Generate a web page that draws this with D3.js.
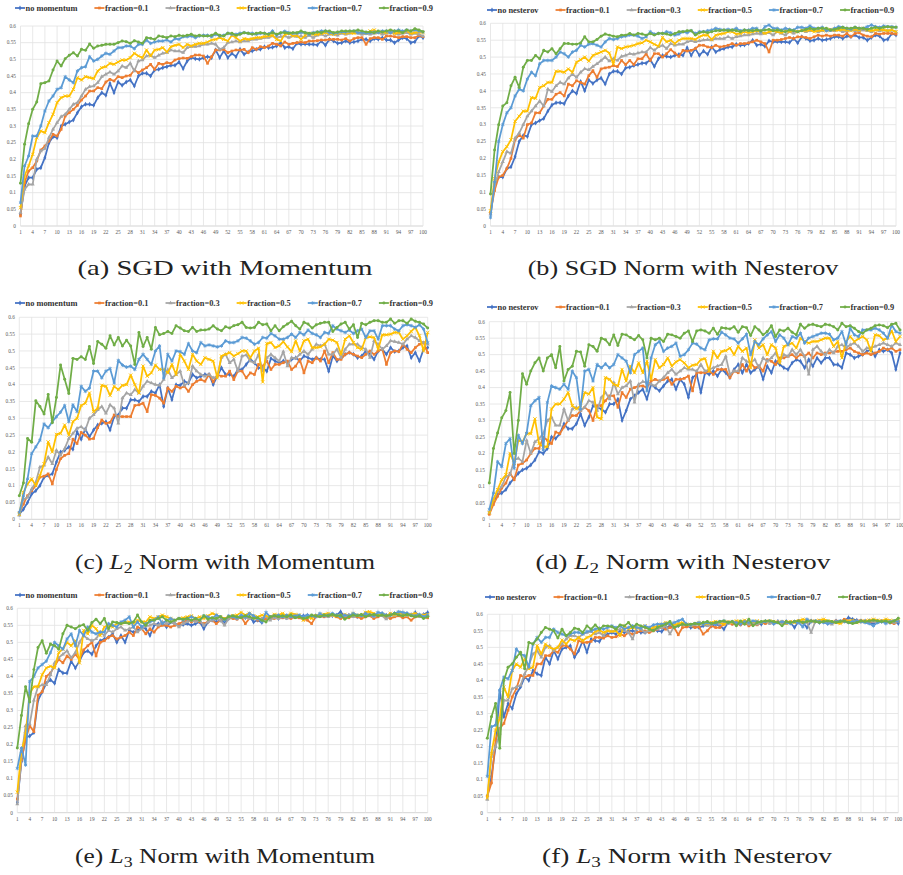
<html>
<head>
<script src="https://d3js.org/d3.v7.min.js"></script>
<style>
body { margin: 0; background: #fff; }
svg { display: block; }
</style>
</head>
<body>
<script>
// ---- data (accuracy per epoch) ----
const epochs = d3.range(1, 101);
const yTicks = [0, 0.05, 0.1, 0.15, 0.2, 0.25, 0.3, 0.35, 0.4, 0.45, 0.5, 0.55, 0.6];
const yTickLabels = ["0", "0.05", "0.1", "0.15", "0.2", "0.25", "0.3", "0.35", "0.4", "0.45", "0.5", "0.55", "0.6"];
const xTickLabels = d3.range(1, 101, 3);
const momentumNames = ["no momentum", "fraction=0.1", "fraction=0.3", "fraction=0.5", "fraction=0.7", "fraction=0.9"];
const nesterovNames = ["no nesterov", "fraction=0.1", "fraction=0.3", "fraction=0.5", "fraction=0.7", "fraction=0.9"];

// (a) SGD with Momentum
const sgdMomNone = [.035,.12,.145,.145,.17,.175,.205,.25,.268,.265, .30,.305,.312,.318,.34,.358,.365,.365,.362,.385,
  .40,.392,.428,.40,.432,.422,.432,.438,.42,.45, .458,.458,.45,.468,.47,.475,.478,.482,.482,.492,
  .472,.495,.505,.502,.50,.505,.508,.505,.528,.505, .525,.505,.518,.508,.53,.515,.522,.525,.53,.53,
  .538,.535,.536,.54,.55,.535,.538,.532,.548,.545, .546,.545,.545,.543,.555,.542,.56,.555,.548,.55,
  .555,.55,.552,.555,.56,.56,.555,.562,.56,.565, .558,.558,.55,.558,.565,.562,.55,.553,.57,.565];
const sgdMom01 = [.03,.13,.165,.175,.195,.228,.24,.255,.275,.27, .29,.33,.34,.35,.362,.378,.39,.405,.405,.415,
  .412,.432,.44,.435,.448,.445,.45,.452,.468,.46, .468,.475,.485,.47,.488,.485,.49,.488,.498,.502,
  .504,.503,.508,.513,.513,.51,.488,.508,.528,.528, .53,.52,.525,.528,.528,.53,.52,.535,.53,.538,
  .535,.54,.548,.545,.54,.552,.545,.548,.55,.552, .55,.555,.555,.556,.558,.558,.56,.56,.56,.558,
  .562,.555,.562,.565,.565,.545,.562,.565,.565,.56, .57,.57,.568,.565,.568,.568,.565,.565,.572,.568];
const sgdMom03 = [.04,.11,.125,.125,.2,.225,.232,.265,.29,.31, .328,.335,.35,.365,.37,.39,.41,.418,.42,.43,
  .448,.455,.462,.455,.465,.48,.475,.488,.465,.495, .498,.51,.512,.505,.512,.518,.52,.528,.525,.525,
  .52,.535,.538,.538,.54,.545,.545,.548,.545,.53, .535,.55,.552,.555,.552,.555,.555,.56,.56,.562,
  .565,.565,.57,.565,.568,.57,.565,.57,.568,.57, .565,.572,.565,.572,.575,.57,.575,.575,.572,.578,
  .575,.578,.58,.578,.575,.578,.575,.578,.58,.575, .578,.58,.578,.575,.578,.58,.575,.578,.575,.57];
const sgdMom05 = [.055,.15,.18,.215,.265,.285,.28,.31,.335,.37, .385,.39,.39,.41,.445,.438,.448,.445,.442,.465,
  .475,.478,.488,.485,.492,.498,.498,.505,.518,.51, .505,.528,.51,.528,.53,.535,.522,.538,.542,.545,
  .535,.545,.54,.545,.548,.548,.552,.558,.56,.565, .56,.555,.572,.565,.555,.562,.56,.562,.565,.565,
  .568,.57,.572,.56,.555,.575,.578,.57,.572,.56, .572,.578,.575,.575,.578,.58,.578,.575,.578,.58,
  .578,.58,.578,.582,.58,.578,.585,.588,.58,.582, .58,.585,.578,.58,.582,.585,.578,.58,.582,.58];
const sgdMom07 = [.07,.18,.21,.27,.27,.30,.345,.375,.39,.41, .415,.448,.438,.43,.465,.475,.478,.508,.495,.50,
  .51,.518,.515,.525,.535,.535,.54,.54,.532,.545, .545,.558,.548,.552,.555,.555,.558,.552,.562,.56,
  .568,.568,.57,.565,.57,.572,.572,.568,.575,.57, .572,.578,.575,.575,.578,.58,.578,.578,.575,.578,
  .578,.576,.585,.572,.578,.584,.58,.578,.578,.58, .58,.575,.58,.582,.585,.585,.58,.578,.58,.582,
  .582,.584,.585,.58,.58,.578,.58,.582,.58,.585, .585,.58,.585,.588,.585,.588,.585,.588,.585,.582];
const sgdMom09 = [.128,.245,.307,.35,.372,.427,.43,.435,.468,.495, .48,.502,.512,.52,.51,.53,.527,.546,.533,.54,
  .542,.545,.545,.545,.55,.555,.553,.548,.556,.552, .548,.565,.563,.56,.57,.568,.565,.57,.568,.572,
  .57,.572,.575,.57,.572,.57,.57,.572,.578,.572, .57,.578,.578,.572,.575,.58,.578,.575,.578,.58,
  .578,.575,.58,.575,.58,.58,.578,.58,.58,.585, .58,.578,.578,.582,.58,.585,.585,.58,.582,.585,
  .585,.585,.585,.588,.585,.582,.582,.58,.585,.582, .585,.588,.585,.585,.58,.588,.585,.592,.588,.583];

// (b) SGD Norm with Nesterov (baseline run is the same curve as in (a))
const sgdNesNone = sgdMomNone;
const sgdNes01 = [.04,.105,.145,.15,.17,.20,.255,.27,.26,.30, .305,.335,.335,.355,.375,.375,.39,.395,.385,.42,
  .415,.43,.425,.42,.445,.46,.44,.465,.468,.47, .475,.472,.49,.478,.49,.478,.495,.495,.51,.49,
  .51,.51,.50,.51,.522,.512,.502,.52,.518,.52, .525,.535,.535,.53,.528,.535,.53,.532,.535,.54,
  .535,.54,.54,.542,.545,.55,.545,.54,.515,.55, .55,.552,.555,.558,.555,.56,.56,.558,.555,.56,
  .565,.562,.565,.562,.565,.565,.562,.57,.56,.57, .572,.565,.562,.56,.57,.568,.57,.57,.57,.568];
const sgdNes03 = [.035,.12,.16,.19,.22,.215,.26,.275,.30,.325, .34,.355,.37,.355,.405,.398,.415,.425,.42,.438,
  .45,.44,.455,.465,.462,.472,.48,.49,.50,.488, .495,.49,.502,.505,.51,.508,.512,.515,.515,.528,
  .52,.53,.535,.525,.54,.535,.538,.538,.545,.548, .545,.548,.55,.552,.55,.555,.555,.555,.56,.555,
  .56,.562,.565,.565,.568,.57,.568,.57,.572,.565, .575,.57,.565,.575,.57,.575,.578,.575,.578,.58,
  .575,.578,.58,.578,.578,.58,.575,.578,.58,.578, .578,.58,.578,.575,.58,.578,.58,.578,.58,.575];
const sgdNes05 = [.045,.14,.19,.22,.235,.255,.31,.325,.34,.34, .38,.378,.41,.415,.425,.425,.458,.458,.455,.465,
  .455,.485,.492,.50,.488,.505,.51,.515,.52,.512, .48,.53,.525,.53,.532,.535,.54,.542,.55,.545,
  .538,.532,.558,.545,.55,.54,.55,.555,.555,.555, .552,.56,.565,.565,.552,.565,.568,.57,.575,.575,
  .568,.57,.575,.572,.575,.578,.575,.57,.575,.578, .575,.572,.578,.575,.578,.575,.58,.578,.58,.575,
  .578,.58,.578,.582,.58,.58,.582,.58,.578,.582, .58,.585,.58,.578,.58,.582,.58,.578,.58,.575];
const sgdNes07 = [.025,.13,.25,.30,.335,.35,.385,.405,.40,.435, .455,.445,.48,.49,.49,.49,.50,.515,.51,.50,
  .515,.52,.535,.53,.538,.54,.535,.53,.545,.555, .552,.555,.56,.562,.565,.565,.562,.555,.56,.575,
  .568,.57,.57,.575,.572,.565,.568,.575,.572,.578, .57,.575,.575,.578,.58,.585,.582,.58,.582,.58,
  .585,.578,.58,.58,.585,.585,.575,.59,.595,.585, .585,.58,.585,.582,.58,.588,.588,.585,.592,.585,
  .585,.588,.578,.58,.585,.59,.588,.585,.582,.588, .585,.585,.59,.595,.59,.588,.592,.59,.59,.588];
const sgdNes09 = [.095,.225,.30,.355,.365,.415,.44,.41,.47,.49, .49,.505,.495,.52,.515,.525,.51,.525,.54,.54,
  .538,.538,.542,.56,.545,.545,.552,.562,.568,.565, .562,.56,.565,.565,.57,.565,.57,.568,.565,.57,
  .565,.57,.57,.568,.565,.57,.575,.575,.578,.578, .565,.572,.575,.572,.575,.578,.578,.58,.578,.58,
  .578,.575,.58,.578,.578,.58,.578,.58,.582,.578, .58,.578,.575,.58,.578,.575,.578,.582,.585,.582,
  .585,.585,.585,.58,.582,.585,.588,.585,.585,.588, .585,.585,.582,.585,.588,.585,.588,.59,.588,.588];

// (c) L2 Norm with Momentum
const l2MomNone = [.015,.03,.05,.075,.085,.10,.125,.13,.135,.17, .20,.205,.215,.208,.26,.238,.268,.245,.265,.28,
  .285,.29,.265,.305,.31,.33,.33,.355,.355,.35, .365,.365,.38,.375,.40,.335,.39,.355,.40,.398,
  .41,.405,.43,.42,.425,.43,.43,.40,.425,.45, .43,.43,.425,.445,.445,.46,.475,.465,.45,.45,
  .44,.478,.47,.465,.47,.465,.475,.48,.47,.485, .48,.475,.48,.475,.475,.44,.485,.47,.48,.49,
  .495,.49,.48,.485,.50,.49,.475,.50,.505,.49, .51,.498,.50,.51,.515,.48,.495,.47,.505,.51];
const l2Mom01 = [.02,.045,.07,.085,.10,.125,.128,.135,.105,.148, .18,.19,.195,.238,.225,.258,.25,.238,.24,.272,
  .295,.285,.288,.31,.305,.305,.305,.305,.338,.34, .345,.32,.37,.368,.36,.345,.39,.38,.395,.39,
  .395,.38,.40,.41,.415,.41,.43,.408,.43,.425, .425,.44,.415,.44,.44,.42,.435,.43,.46,.455,
  .47,.445,.46,.46,.465,.47,.445,.455,.475,.435, .47,.465,.48,.47,.50,.465,.495,.475,.475,.49,
  .495,.49,.485,.48,.49,.50,.49,.50,.505,.46, .495,.50,.498,.52,.505,.495,.51,.52,.525,.495];
const l2Mom03 = [.012,.06,.065,.09,.11,.155,.16,.185,.165,.205, .19,.21,.24,.255,.27,.275,.265,.30,.31,.325,
  .335,.315,.34,.33,.285,.36,.375,.37,.385,.375, .395,.41,.405,.40,.398,.415,.445,.42,.43,.44,
  .398,.405,.455,.44,.43,.425,.43,.42,.425,.48, .49,.465,.475,.44,.485,.488,.47,.465,.49,.44,
  .48,.49,.48,.47,.498,.455,.48,.478,.49,.50, .49,.505,.52,.515,.52,.49,.49,.505,.48,.505,
  .52,.52,.52,.51,.505,.48,.53,.52,.505,.515, .53,.528,.525,.52,.535,.545,.54,.53,.525,.52];
const l2Mom05 = [.015,.08,.105,.12,.10,.13,.165,.23,.20,.252, .255,.28,.25,.29,.30,.338,.345,.375,.32,.33,
  .398,.395,.368,.395,.385,.398,.40,.428,.40,.375, .455,.425,.435,.458,.445,.445,.435,.46,.43,.49,
  .47,.445,.49,.47,.46,.48,.475,.47,.42,.485, .49,.495,.485,.492,.50,.50,.48,.50,.508,.408,
  .522,.525,.51,.515,.528,.512,.498,.53,.50,.53, .535,.51,.51,.512,.52,.535,.532,.525,.49,.535,
  .545,.525,.51,.505,.54,.542,.54,.505,.548,.548, .55,.555,.555,.535,.545,.558,.57,.545,.50,.555];
const l2Mom07 = [.02,.07,.12,.195,.215,.235,.283,.272,.29,.305, .318,.338,.29,.34,.32,.395,.38,.39,.44,.44,
  .42,.44,.448,.405,.472,.458,.452,.455,.445,.475, .49,.475,.46,.50,.515,.42,.49,.47,.50,.498,
  .49,.522,.50,.495,.525,.515,.518,.515,.512,.515, .53,.525,.525,.53,.54,.538,.53,.52,.525,.54,
  .538,.552,.545,.535,.535,.54,.55,.54,.555,.548, .562,.552,.548,.54,.555,.552,.575,.565,.56,.555,
  .562,.552,.56,.565,.54,.56,.56,.535,.575,.575, .575,.565,.56,.575,.578,.575,.57,.578,.565,.525];
const l2Mom09 = [.07,.108,.24,.229,.352,.335,.313,.371,.287,.362, .458,.416,.374,.478,.475,.483,.475,.513,.463,.528,
  .52,.508,.545,.518,.54,.515,.532,.515,.46,.555, .513,.54,.505,.57,.548,.552,.558,.552,.575,.568,
  .56,.558,.57,.558,.562,.562,.565,.575,.565,.56, .572,.568,.575,.578,.585,.57,.568,.57,.585,.578,
  .58,.56,.575,.56,.572,.58,.588,.575,.565,.585, .58,.568,.578,.582,.585,.585,.558,.57,.58,.585,
  .565,.578,.54,.582,.578,.585,.59,.59,.585,.585, .595,.582,.59,.59,.582,.595,.588,.585,.58,.568];

// (d) L2 Norm with Nesterov
const l2NesNone = [.02,.055,.075,.08,.09,.11,.125,.14,.15,.155, .165,.18,.205,.20,.215,.25,.245,.26,.29,.275,
  .275,.29,.32,.285,.31,.345,.34,.335,.325,.35, .35,.365,.30,.33,.365,.375,.385,.395,.365,.41,
  .40,.39,.405,.42,.425,.395,.425,.41,.37,.43, .44,.385,.445,.44,.45,.435,.455,.445,.43,.455,
  .47,.445,.47,.445,.455,.465,.425,.465,.445,.48, .47,.46,.455,.475,.485,.48,.46,.485,.465,.49,
  .475,.49,.49,.47,.47,.46,.505,.50,.49,.495, .50,.51,.515,.495,.515,.51,.515,.505,.455,.505];
const l2Nes01 = [.015,.045,.07,.095,.11,.14,.12,.165,.17,.18, .20,.215,.215,.25,.24,.23,.265,.26,.28,.30,
  .315,.315,.33,.34,.33,.30,.345,.345,.36,.375, .375,.34,.385,.37,.395,.40,.405,.405,.40,.42,
  .425,.42,.425,.43,.41,.425,.425,.428,.435,.39, .445,.445,.445,.45,.44,.455,.455,.455,.43,.45,
  .445,.47,.45,.475,.46,.465,.45,.485,.48,.47, .49,.49,.495,.50,.49,.50,.495,.505,.49,.505,
  .50,.505,.505,.508,.51,.51,.515,.52,.51,.505, .50,.505,.50,.505,.51,.52,.515,.52,.51,.515];
const l2Nes03 = [.02,.06,.085,.10,.13,.135,.18,.185,.175,.24, .20,.235,.245,.26,.30,.31,.285,.285,.335,.30,
  .335,.34,.33,.34,.36,.355,.33,.37,.385,.365, .415,.38,.40,.405,.42,.355,.41,.418,.415,.41,
  .405,.42,.43,.445,.455,.44,.45,.46,.455,.455, .45,.47,.45,.455,.46,.465,.47,.495,.44,.45,
  .45,.49,.48,.475,.485,.46,.49,.48,.49,.505, .48,.50,.495,.515,.50,.515,.495,.44,.515,.525,
  .51,.50,.515,.505,.525,.53,.52,.53,.535,.525, .51,.52,.52,.525,.53,.535,.53,.525,.535,.53];
const l2Nes05 = [.02,.06,.09,.12,.135,.20,.17,.24,.235,.26, .26,.305,.23,.22,.22,.335,.35,.35,.365,.385,
  .345,.335,.345,.385,.38,.40,.31,.305,.43,.425, .41,.405,.455,.42,.465,.445,.475,.445,.48,.425,
  .485,.46,.47,.49,.465,.478,.485,.475,.46,.468, .47,.485,.488,.45,.51,.49,.51,.512,.52,.50,
  .525,.51,.52,.46,.545,.52,.53,.50,.53,.52, .475,.525,.53,.535,.52,.55,.54,.535,.54,.54,
  .545,.55,.55,.525,.54,.49,.54,.555,.54,.548, .555,.545,.51,.56,.558,.545,.55,.572,.54,.555];
const l2Nes07 = [.03,.08,.175,.16,.23,.245,.155,.255,.23,.262, .345,.36,.37,.21,.355,.405,.40,.395,.41,.395,
  .45,.43,.335,.45,.455,.42,.47,.46,.472,.46, .47,.50,.49,.48,.445,.50,.51,.52,.39,.49,
  .53,.54,.51,.52,.525,.535,.495,.50,.515,.535, .532,.52,.515,.545,.548,.548,.568,.56,.55,.548,
  .535,.548,.562,.50,.54,.53,.548,.56,.57,.54, .56,.55,.53,.555,.55,.565,.535,.55,.555,.56,
  .565,.565,.562,.545,.55,.57,.53,.58,.56,.555, .575,.575,.575,.58,.575,.565,.55,.59,.57,.565];
const l2Nes09 = [.11,.215,.262,.308,.33,.385,.20,.30,.442,.41, .45,.475,.49,.45,.49,.50,.46,.525,.42,.455,
  .465,.51,.508,.465,.53,.525,.51,.55,.545,.53, .56,.528,.562,.56,.552,.545,.558,.545,.49,.55,
  .545,.55,.54,.562,.56,.555,.55,.565,.572,.54, .572,.575,.572,.565,.58,.562,.582,.58,.578,.585,
  .568,.585,.582,.558,.585,.575,.56,.57,.588,.555, .575,.572,.58,.568,.56,.592,.58,.59,.592,.588,
  .585,.592,.59,.585,.575,.595,.585,.588,.58,.57, .565,.575,.58,.588,.59,.588,.582,.592,.595,.575];

// (e) L3 Norm with Momentum
const l3MomNone = [.03,.15,.22,.225,.235,.33,.355,.38,.39,.38, .42,.41,.41,.445,.425,.445,.47,.475,.465,.49,
  .505,.51,.515,.525,.50,.52,.50,.535,.53,.535, .545,.54,.52,.55,.555,.555,.545,.56,.555,.55,
  .552,.555,.55,.555,.56,.54,.56,.565,.56,.565, .56,.57,.575,.57,.575,.572,.575,.56,.565,.558,
  .575,.57,.575,.57,.575,.572,.575,.578,.575,.578, .58,.575,.578,.58,.578,.58,.578,.58,.59,.575,
  .58,.578,.575,.58,.578,.582,.58,.578,.585,.58, .582,.585,.582,.58,.585,.58,.588,.578,.582,.588];
const l3Mom01 = [.04,.155,.215,.255,.238,.345,.355,.40,.41,.43, .45,.44,.46,.45,.465,.45,.478,.49,.50,.46,
  .50,.505,.515,.52,.51,.515,.52,.53,.52,.545, .54,.525,.54,.53,.545,.55,.55,.545,.55,.555,
  .56,.565,.56,.565,.56,.555,.56,.565,.555,.565, .57,.575,.57,.568,.575,.555,.57,.575,.565,.57,
  .568,.575,.57,.575,.572,.575,.57,.575,.572,.568, .565,.555,.575,.578,.575,.578,.58,.575,.57,.575,
  .572,.578,.575,.57,.575,.578,.57,.575,.58,.575, .57,.575,.578,.572,.575,.565,.575,.578,.575,.572];
const l3Mom03 = [.025,.165,.255,.26,.33,.37,.375,.375,.405,.44, .455,.465,.475,.455,.47,.50,.52,.51,.505,.51,
  .53,.52,.535,.53,.54,.545,.535,.54,.545,.53, .54,.548,.55,.555,.55,.56,.555,.56,.555,.545,
  .555,.56,.565,.56,.565,.55,.56,.565,.57,.565, .55,.57,.575,.57,.575,.572,.57,.575,.568,.57,
  .575,.565,.572,.57,.575,.57,.578,.572,.575,.57, .58,.575,.578,.575,.58,.575,.578,.58,.575,.578,
  .58,.575,.578,.58,.578,.582,.575,.58,.578,.568, .58,.578,.585,.58,.578,.582,.58,.575,.58,.578];
const l3Mom05 = [.06,.18,.23,.35,.37,.37,.405,.425,.43,.425, .47,.48,.50,.49,.505,.44,.535,.525,.55,.54,
  .52,.545,.55,.545,.555,.555,.558,.56,.555,.565, .56,.56,.575,.57,.575,.58,.575,.57,.565,.57,
  .572,.575,.578,.57,.575,.57,.578,.585,.58,.575, .57,.575,.578,.58,.588,.58,.585,.578,.575,.58,
  .578,.575,.582,.58,.585,.578,.585,.582,.58,.565, .575,.57,.578,.58,.582,.585,.58,.578,.575,.582,
  .578,.585,.58,.578,.588,.59,.585,.58,.582,.578, .585,.58,.588,.585,.58,.582,.585,.578,.58,.582];
const l3Mom07 = [.13,.19,.14,.385,.40,.425,.435,.445,.47,.50, .49,.48,.51,.525,.49,.535,.52,.545,.53,.525,
  .53,.53,.555,.55,.545,.56,.565,.575,.545,.56, .545,.555,.56,.565,.575,.555,.565,.57,.565,.57,
  .565,.57,.575,.57,.565,.578,.575,.57,.58,.575, .565,.578,.575,.572,.58,.575,.585,.578,.57,.56,
  .588,.575,.578,.58,.575,.58,.575,.578,.58,.575, .58,.578,.575,.585,.578,.58,.585,.58,.575,.58,
  .578,.585,.58,.578,.585,.58,.578,.588,.585,.578, .58,.585,.59,.588,.585,.58,.578,.582,.575,.58];
const l3Mom09 = [.19,.285,.37,.325,.42,.485,.505,.468,.495,.49, .48,.525,.55,.545,.54,.548,.552,.535,.558,.568,
  .555,.57,.54,.56,.558,.555,.558,.555,.56,.58, .56,.55,.565,.565,.57,.575,.565,.56,.565,.57,
  .568,.57,.565,.57,.565,.578,.568,.572,.57,.575, .568,.575,.578,.575,.572,.578,.575,.57,.572,.565,
  .56,.575,.578,.575,.578,.575,.58,.572,.575,.57, .572,.58,.578,.575,.58,.578,.582,.578,.58,.568,
  .575,.58,.578,.582,.575,.58,.582,.578,.58,.578, .58,.585,.58,.578,.582,.578,.575,.578,.57,.575];

// (f) L3 Norm with Nesterov
const l3NesNone = [.05,.11,.20,.37,.29,.33,.315,.36,.38,.41, .40,.43,.42,.415,.47,.45,.49,.465,.495,.50,
  .505,.47,.49,.52,.485,.525,.52,.518,.535,.54, .545,.54,.55,.545,.55,.55,.548,.545,.545,.55,
  .555,.55,.548,.56,.565,.56,.565,.57,.565,.56, .562,.56,.565,.568,.565,.57,.565,.555,.575,.572,
  .575,.57,.575,.57,.572,.575,.57,.578,.575,.572, .578,.575,.578,.575,.56,.578,.575,.56,.58,.578,
  .575,.578,.572,.575,.58,.578,.58,.59,.585,.582, .578,.58,.575,.572,.58,.578,.58,.575,.578,.572];
const l3Nes01 = [.05,.09,.22,.255,.27,.31,.35,.375,.415,.41, .415,.415,.45,.45,.475,.475,.49,.485,.505,.505,
  .495,.48,.52,.515,.515,.518,.53,.53,.528,.535, .53,.532,.54,.535,.545,.54,.545,.55,.55,.545,
  .55,.555,.56,.555,.56,.56,.538,.56,.562,.565, .56,.562,.54,.55,.565,.56,.56,.57,.575,.57,
  .572,.568,.575,.565,.57,.568,.575,.572,.578,.575, .578,.575,.578,.575,.578,.58,.575,.578,.58,.578,
  .58,.582,.578,.575,.58,.578,.585,.58,.578,.58, .582,.578,.575,.58,.578,.58,.578,.575,.572,.578];
const l3Nes03 = [.04,.17,.20,.24,.34,.34,.375,.38,.385,.42, .445,.48,.49,.47,.50,.505,.49,.50,.51,.525,
  .535,.535,.53,.54,.545,.548,.54,.545,.535,.55, .548,.552,.555,.55,.545,.525,.56,.555,.545,.55,
  .56,.555,.56,.565,.54,.565,.57,.568,.57,.565, .568,.57,.575,.565,.57,.575,.57,.575,.572,.575,
  .57,.575,.578,.57,.575,.57,.575,.578,.572,.575, .578,.575,.572,.575,.578,.575,.578,.575,.545,.578,
  .58,.578,.575,.57,.578,.575,.578,.58,.575,.578, .58,.578,.582,.578,.575,.578,.58,.578,.575,.58];
const l3Nes05 = [.045,.18,.25,.285,.38,.35,.43,.45,.44,.465, .435,.44,.505,.48,.51,.50,.495,.50,.522,.51,
  .525,.52,.53,.52,.53,.535,.548,.552,.545,.55, .548,.55,.535,.565,.555,.56,.558,.56,.565,.555,
  .56,.565,.57,.575,.57,.568,.572,.575,.57,.568, .572,.575,.57,.572,.575,.578,.575,.57,.578,.575,
  .58,.578,.582,.575,.578,.58,.575,.578,.58,.578, .575,.578,.572,.578,.575,.58,.585,.582,.578,.58,
  .582,.585,.58,.578,.575,.572,.578,.58,.582,.575, .578,.58,.582,.585,.582,.58,.585,.582,.58,.582];
const l3Nes07 = [.11,.26,.265,.37,.41,.405,.43,.495,.48,.475, .44,.51,.53,.515,.53,.53,.555,.545,.54,.535,
  .54,.545,.545,.54,.548,.55,.555,.558,.555,.56, .565,.56,.565,.555,.56,.565,.56,.558,.565,.56,
  .568,.57,.57,.572,.57,.575,.58,.585,.57,.568, .572,.575,.57,.575,.572,.57,.578,.58,.575,.578,
  .575,.57,.578,.575,.58,.578,.575,.578,.58,.572, .575,.578,.575,.572,.578,.575,.562,.585,.578,.58,
  .578,.575,.572,.575,.578,.58,.578,.575,.578,.58, .578,.575,.572,.565,.575,.578,.572,.578,.58,.578];
const l3Nes09 = [.225,.29,.33,.195,.40,.44,.45,.47,.485,.435, .515,.51,.525,.545,.56,.555,.55,.528,.555,.535,
  .545,.558,.555,.545,.565,.555,.568,.555,.565,.565, .562,.555,.568,.565,.575,.56,.57,.565,.56,.555,
  .55,.56,.565,.57,.578,.56,.565,.57,.568,.57, .572,.57,.575,.578,.572,.575,.578,.58,.575,.578,
  .565,.58,.57,.585,.565,.575,.578,.58,.58,.578, .575,.565,.578,.575,.578,.58,.575,.578,.58,.578,
  .575,.578,.58,.578,.575,.578,.58,.575,.572,.575, .58,.578,.58,.582,.58,.578,.58,.575,.58,.588];

// ---- styling / layout ----
const colors = ["#4472C4", "#ED7D31", "#A5A5A5", "#FFC000", "#5B9BD5", "#70AD47"];
const markers = [d3.symbolDiamond, d3.symbolSquare, d3.symbolTriangle, d3.symbolTimes, d3.symbolAsterisk, d3.symbolCircle];
const strokeMarker = [false, false, false, true, true, false];

const panels = [
    {series: [sgdMomNone, sgdMom01, sgdMom03, sgdMom05, sgdMom07, sgdMom09], names: momentumNames,
     caption: [["(a) SGD with Momentum", ""]]},
    {series: [sgdNesNone, sgdNes01, sgdNes03, sgdNes05, sgdNes07, sgdNes09], names: nesterovNames,
     caption: [["(b) SGD Norm with Nesterov", ""]]},
    {series: [l2MomNone, l2Mom01, l2Mom03, l2Mom05, l2Mom07, l2Mom09], names: momentumNames,
     caption: [["(c) ", ""], ["L", "it"], ["2", "sub"], [" Norm with Momentum", ""]]},
    {series: [l2NesNone, l2Nes01, l2Nes03, l2Nes05, l2Nes07, l2Nes09], names: nesterovNames,
     caption: [["(d) ", ""], ["L", "it"], ["2", "sub"], [" Norm with Nesterov", ""]]},
    {series: [l3MomNone, l3Mom01, l3Mom03, l3Mom05, l3Mom07, l3Mom09], names: momentumNames,
     caption: [["(e) ", ""], ["L", "it"], ["3", "sub"], [" Norm with Momentum", ""]]},
    {series: [l3NesNone, l3Nes01, l3Nes03, l3Nes05, l3Nes07, l3Nes09], names: nesterovNames,
     caption: [["(f) ", ""], ["L", "it"], ["3", "sub"], [" Norm with Nesterov", ""]]}
];

const boxes = [
    {left: 20.5, right: 423, top: 26, bottom: 226, legendX: 15, legendY: 8, capX: 225, capY: 275, capW: 295},
    {left: 490.5, right: 896, top: 23.3, bottom: 226, legendX: 487, legendY: 10, capX: 683, capY: 275, capW: 311},
    {left: 19.3, right: 427.7, top: 317.3, bottom: 519.3, legendX: 15, legendY: 303, capX: 225, capY: 569, capW: 300},
    {left: 489.3, right: 900, top: 321.7, bottom: 519.3, legendX: 487, legendY: 307, capX: 683, capY: 569, capW: 295},
    {left: 17.3, right: 427.7, top: 608.3, bottom: 812.7, legendX: 15, legendY: 595, capX: 225, capY: 863, capW: 300},
    {left: 487.3, right: 898.3, top: 614.3, bottom: 812.7, legendX: 485, legendY: 597, capX: 687, capY: 863, capW: 290}
];

let width = 903, height = 875;
let svg = d3.select("body").append("svg").attr("width", width).attr("height", height);

function marker(g, i, x, y) {
    let sym = d3.symbol().type(markers[i]).size(strokeMarker[i] ? 9 : 7);
    let m = g.append("path").attr("d", sym()).attr("transform", "translate(" + x + "," + y + ")");
    if (strokeMarker[i]) m.attr("fill", "none").attr("stroke", colors[i]).attr("stroke-width", 0.9);
    else m.attr("fill", colors[i]);
    return m;
}

panels.forEach(function(p, k) {
    let b = boxes[k];
    let g = svg.append("g");

    let xScale = d3.scaleLinear().domain([1, 100]).range([b.left, b.right]);
    let yScale = d3.scaleLinear().domain([0, 0.6]).range([b.bottom, b.top]);

    // grid
    g.append("g").selectAll("line").data(yTicks).enter().append("line")
        .attr("x1", b.left).attr("x2", b.right)
        .attr("y1", d => yScale(d)).attr("y2", d => yScale(d))
        .attr("stroke", (d, i) => i == 0 ? "#c8c8c8" : "#e2e2e2").attr("stroke-width", 0.8);
    g.append("g").selectAll("line").data(xTickLabels).enter().append("line")
        .attr("x1", d => xScale(d)).attr("x2", d => xScale(d))
        .attr("y1", b.top).attr("y2", b.bottom)
        .attr("stroke", "#e2e2e2").attr("stroke-width", 0.8);

    // tick labels
    g.append("g").selectAll("text").data(yTicks).enter().append("text")
        .attr("x", b.left - 4.5).attr("y", d => yScale(d) + 1.8)
        .attr("text-anchor", "end")
        .attr("font-family", "Liberation Serif").attr("font-size", "5.3px").attr("fill", "#595959")
        .text((d, i) => yTickLabels[i]);
    g.append("g").selectAll("text").data(xTickLabels).enter().append("text")
        .attr("x", d => xScale(d)).attr("y", b.bottom + 8)
        .attr("text-anchor", "middle")
        .attr("font-family", "Liberation Serif").attr("font-size", "5.3px").attr("fill", "#595959")
        .text(d => d);

    // series
    let line = d3.line().x((d, i) => xScale(epochs[i])).y(d => yScale(d));
    p.series.forEach(function(values, i) {
        let s = g.append("g");
        s.append("path").datum(values)
            .attr("d", line)
            .attr("fill", "none")
            .attr("stroke", colors[i])
            .attr("stroke-width", 1.75)
            .attr("stroke-linejoin", "round");
        values.forEach(function(v, j) {
            marker(s, i, xScale(epochs[j]), yScale(v));
        });
    });

    // legend
    let lx = b.legendX;
    p.names.forEach(function(name, i) {
        let lg = g.append("g");
        lg.append("line")
            .attr("x1", lx).attr("x2", lx + 10)
            .attr("y1", b.legendY).attr("y2", b.legendY)
            .attr("stroke", colors[i]).attr("stroke-width", 1.75);
        marker(lg, i, lx + 5, b.legendY);
        let t = lg.append("text")
            .attr("x", lx + 10.5).attr("y", b.legendY + 2.9)
            .attr("font-family", "Liberation Serif").attr("font-weight", "bold")
            .attr("font-size", "8.4px").attr("fill", "#333")
            .text(name);
        lx += 10.5 + t.node().getComputedTextLength() + 17;
    });

    // caption
    let cap = svg.append("text")
        .attr("x", 0).attr("y", 0)
        .attr("text-anchor", "middle")
        .attr("font-family", "Liberation Serif").attr("font-size", "20px").attr("fill", "#222");
    p.caption.forEach(function(seg, j) {
        let ts = cap.append("tspan").text(seg[0]);
        if (seg[1] == "it") ts.attr("font-style", "italic");
        if (seg[1] == "sub") ts.attr("font-size", "14px").attr("dy", 4);
        if (j > 0 && p.caption[j - 1][1] == "sub") ts.attr("dy", -4);
    });
    let natural = cap.node().getComputedTextLength();
    cap.attr("transform", "translate(" + b.capX + "," + b.capY + ") scale(" + (b.capW / natural) + ",1)");
});
</script>
</body>
</html>
